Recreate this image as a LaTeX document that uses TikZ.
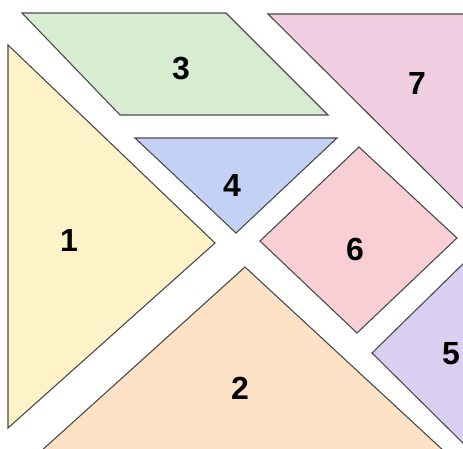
\documentclass[tikz,border=0pt]{standalone}
\usepackage{fontspec}
\setmainfont{Liberation Sans}
\definecolor{edgegray}{HTML}{4A4A4A}
\definecolor{tanyellow}{HTML}{FEF3C8}
\definecolor{tanorange}{HTML}{FDE2C6}
\definecolor{tangreen}{HTML}{D8ECD2}
\definecolor{tanblue}{HTML}{C3D2F4}
\definecolor{tanpurple}{HTML}{D8CFF1}
\definecolor{tanrose}{HTML}{F8CFD4}
\definecolor{tanpink}{HTML}{F1CFE2}

\begin{document}
\begin{tikzpicture}[x=1pt,y=-1pt,
   piece/.style={draw=edgegray,line width=1.1pt,line join=miter},
   num/.style={font=\fontsize{32}{32}\selectfont\bfseries,inner sep=0pt}]
  \useasboundingbox (0,0) rectangle (463,448);
  \clip (0,0) rectangle (463,448);

  % ---- big triangles ----
  \filldraw[piece,fill=tanyellow] (8,45) -- (215,243) -- (8,428) -- cycle;
  \filldraw[piece,fill=tanorange] (245,267) -- (445,452) -- (40,452) -- cycle;

  % ---- parallelogram, small triangle, square ----
  \filldraw[piece,fill=tangreen] (22,13) -- (226,13) -- (328,115) -- (120,115) -- cycle;
  \filldraw[piece,fill=tanblue] (135,138) -- (337,138) -- (236,233) -- cycle;
  \filldraw[piece,fill=tanrose] (359,147) -- (457,238) -- (357,333) -- (260,241) -- cycle;

  % ---- pieces cut by the right edge ----
  \filldraw[piece,fill=tanpink] (268,14) -- (470,14) -- (470,215) -- cycle;
  \filldraw[piece,fill=tanpurple] (372,353) -- (470,257) -- (470,450) -- cycle;

  % ---- numbers ----
  \node[num] (n1) at (69,240) {1};
  \node[num] (n2) at (240,388) {2};
  \node[num] (n3) at (181,69) {3};
  \node[num] (n4) at (232,185) {4};
  \node[num] (n5) at (451,354) {5};
  \node[num] (n6) at (355,249) {6};
  \node[num] (n7) at (417,83) {7};
\end{tikzpicture}
\end{document}
